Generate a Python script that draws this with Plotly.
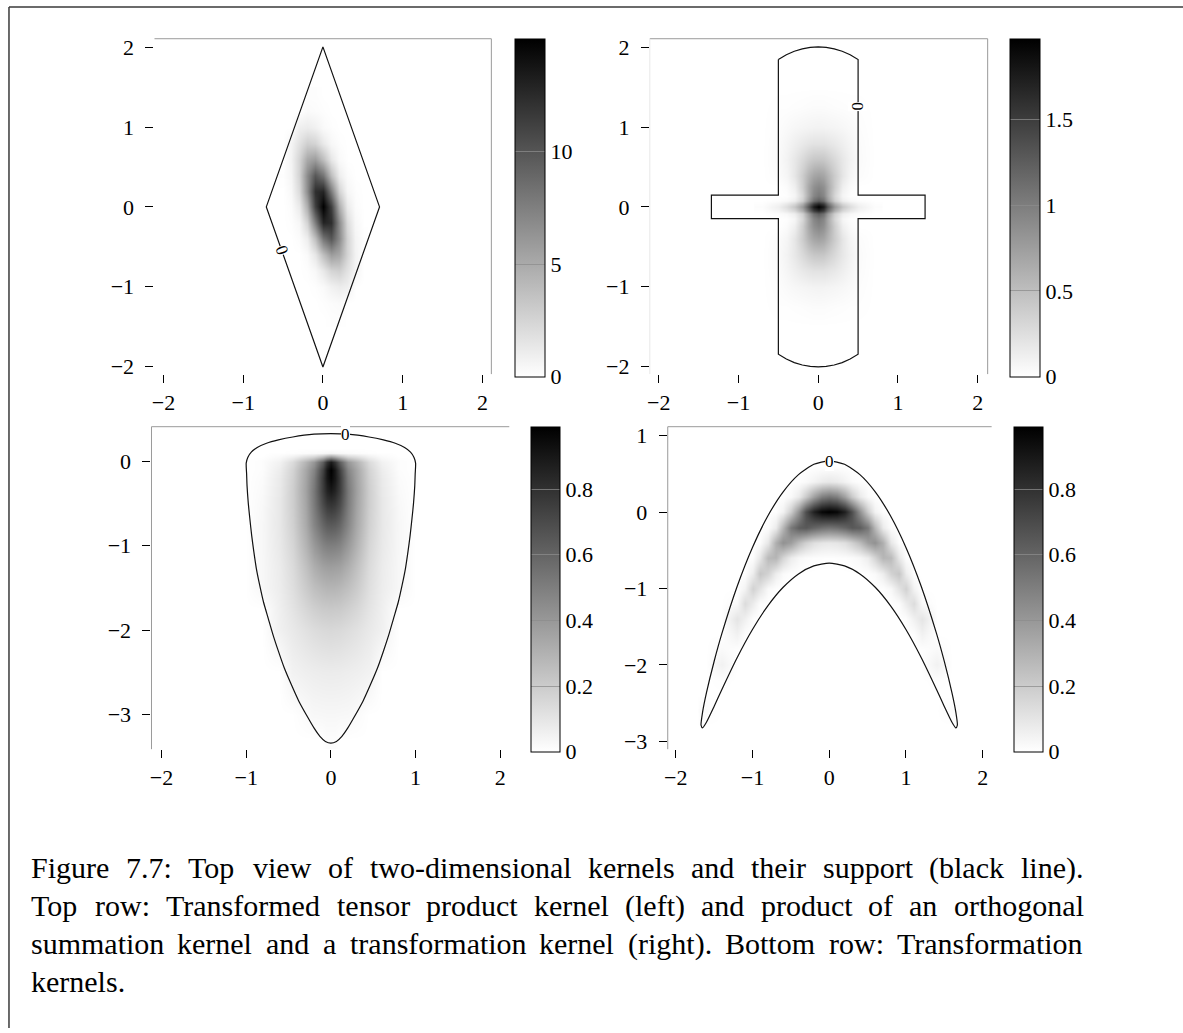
import plotly.graph_objects as go

# ---------------- data ----------------
# Panel 1: transformed tensor product kernel (rhombus support)
P1_X = [-0.5, -0.4, -0.3, -0.2, -0.1, 0, 0.1, 0.2, 0.3, 0.4, 0.5]
P1_Y = [-1.4, -1.2, -1.0, -0.8, -0.6, -0.4, -0.2, 0, 0.2, 0.4, 0.6, 0.8, 1.0, 1.2, 1.4]
P1_Z = [
    [0, 0, 0, 0, 0, 0, 0.1, 0.1, 0, 0, 0],
    [0, 0, 0, 0, 0, 0.1, 0.2, 0.3, 0, 0, 0],
    [0, 0, 0, 0, 0.1, 0.3, 0.8, 1.1, 0.9, 0, 0],
    [0, 0, 0, 0.1, 0.4, 1.3, 2.5, 2.8, 1.7, 0.6, 0],
    [0, 0, 0, 0.3, 1.4, 3.8, 5.8, 5.1, 2.5, 0.7, 0],
    [0, 0, 0.2, 1.0, 3.8, 8.1, 9.9, 6.8, 2.6, 0.6, 0.1],
    [0, 0.1, 0.5, 2.6, 7.7, 12.9, 12.3, 6.7, 2.1, 0.4, 0],
    [0, 0.2, 1.2, 4.8, 11.3, 15.0, 11.3, 4.8, 1.2, 0.2, 0],
    [0, 0.4, 2.1, 6.7, 12.3, 12.9, 7.7, 2.6, 0.5, 0.1, 0],
    [0.1, 0.6, 2.6, 6.8, 9.9, 8.1, 3.8, 1.0, 0.2, 0, 0],
    [0, 0.7, 2.5, 5.1, 5.8, 3.8, 1.4, 0.3, 0, 0, 0],
    [0, 0.6, 1.7, 2.8, 2.5, 1.3, 0.4, 0.1, 0, 0, 0],
    [0, 0, 0.9, 1.1, 0.8, 0.3, 0.1, 0, 0, 0, 0],
    [0, 0, 0, 0.3, 0.2, 0.1, 0, 0, 0, 0, 0],
    [0, 0, 0, 0.1, 0.1, 0, 0, 0, 0, 0, 0],
]
P1_ZMAX = 15.0
P1_SUPPORT_X = [0, 0.71, 0, -0.71, 0]
P1_SUPPORT_Y = [2.01, 0, -2.01, 0, 2.01]
P1_LABEL = (-0.516, -0.55, 70.6)

# Panel 2: orthogonal summation kernel x transformation kernel (cross support)
P2_X = [-0.7, -0.5, -0.4, -0.3, -0.2, -0.12, -0.06, 0, 0.06, 0.12, 0.2, 0.3, 0.4, 0.5, 0.7]
P2_Y = [-1.5, -1.25, -1.0, -0.8, -0.6, -0.4, -0.25, -0.14, -0.08, -0.04, 0,
        0.04, 0.08, 0.14, 0.25, 0.4, 0.6, 0.8, 1.0, 1.25, 1.5]
P2_Z = [
    [0, 0, 0, 0, 0, 0, 0, 0, 0, 0, 0, 0, 0, 0, 0],
    [0, 0.01, 0.01, 0.015, 0.02, 0.025, 0.03, 0.03, 0.03, 0.025, 0.02, 0.015, 0.01, 0.01, 0],
    [0, 0.02, 0.04, 0.06, 0.075, 0.085, 0.09, 0.095, 0.09, 0.085, 0.075, 0.06, 0.04, 0.02, 0],
    [0, 0.03, 0.07, 0.12, 0.17, 0.20, 0.22, 0.22, 0.22, 0.20, 0.17, 0.12, 0.07, 0.03, 0],
    [0, 0.035, 0.09, 0.18, 0.29, 0.38, 0.43, 0.44, 0.43, 0.38, 0.29, 0.18, 0.09, 0.035, 0],
    [0, 0.025, 0.07, 0.19, 0.39, 0.58, 0.69, 0.73, 0.69, 0.58, 0.39, 0.19, 0.07, 0.025, 0],
    [0, 0, 0.03, 0.12, 0.38, 0.67, 0.85, 0.92, 0.85, 0.67, 0.38, 0.12, 0.03, 0, 0],
    [0, 0, 0.01, 0.07, 0.31, 0.67, 0.93, 1.03, 0.93, 0.67, 0.31, 0.07, 0.01, 0, 0],
    [0, 0.02, 0.05, 0.13, 0.37, 0.78, 1.10, 1.24, 1.10, 0.78, 0.37, 0.13, 0.05, 0.02, 0],
    [0.01, 0.08, 0.17, 0.31, 0.63, 1.11, 1.50, 1.67, 1.50, 1.11, 0.63, 0.31, 0.17, 0.08, 0.01],
    [0.02, 0.12, 0.25, 0.44, 0.79, 1.31, 1.76, 1.97, 1.76, 1.31, 0.79, 0.44, 0.25, 0.12, 0.02],
    [0.01, 0.08, 0.17, 0.31, 0.63, 1.11, 1.50, 1.67, 1.50, 1.11, 0.63, 0.31, 0.17, 0.08, 0.01],
    [0, 0.02, 0.05, 0.13, 0.37, 0.78, 1.10, 1.24, 1.10, 0.78, 0.37, 0.13, 0.05, 0.02, 0],
    [0, 0, 0.01, 0.07, 0.31, 0.67, 0.93, 1.03, 0.93, 0.67, 0.31, 0.07, 0.01, 0, 0],
    [0, 0, 0.03, 0.12, 0.38, 0.67, 0.85, 0.92, 0.85, 0.67, 0.38, 0.12, 0.03, 0, 0],
    [0, 0.025, 0.07, 0.19, 0.39, 0.58, 0.69, 0.73, 0.69, 0.58, 0.39, 0.19, 0.07, 0.025, 0],
    [0, 0.035, 0.09, 0.18, 0.29, 0.38, 0.43, 0.44, 0.43, 0.38, 0.29, 0.18, 0.09, 0.035, 0],
    [0, 0.03, 0.07, 0.12, 0.17, 0.20, 0.22, 0.22, 0.22, 0.20, 0.17, 0.12, 0.07, 0.03, 0],
    [0, 0.02, 0.04, 0.06, 0.075, 0.085, 0.09, 0.095, 0.09, 0.085, 0.075, 0.06, 0.04, 0.02, 0],
    [0, 0.01, 0.01, 0.015, 0.02, 0.025, 0.03, 0.03, 0.03, 0.025, 0.02, 0.015, 0.01, 0.01, 0],
    [0, 0, 0, 0, 0, 0, 0, 0, 0, 0, 0, 0, 0, 0, 0],
]
P2_ZMAX = 1.97
P2_SUPPORT_X = [-0.5, -0.4, -0.3, -0.2, -0.1, 0, 0.1, 0.2, 0.3, 0.4, 0.5,
                0.5, 1.34, 1.34, 0.5,
                0.5, 0.4, 0.3, 0.2, 0.1, 0, -0.1, -0.2, -0.3, -0.4, -0.5,
                -0.5, -1.34, -1.34, -0.5, -0.5]
P2_SUPPORT_Y = [1.85, 1.91, 1.955, 1.985, 2.003, 2.01, 2.003, 1.985, 1.955, 1.91, 1.85,
                0.147, 0.147, -0.147, -0.147,
                -1.85, -1.91, -1.955, -1.985, -2.003, -2.01, -2.003, -1.985, -1.955, -1.91, -1.85,
                -0.147, -0.147, 0.147, 0.147, 1.85]
P2_LABEL = (0.5, 1.265, 90)

# Panel 3: transformation kernel (tear-drop support)
P3_X = [-1.0, -0.8, -0.6, -0.45, -0.3, -0.2, -0.1, -0.05, 0, 0.05, 0.1, 0.2, 0.3, 0.45, 0.6, 0.8, 1.0]
P3_Y = [-3.3, -3.0, -2.5, -2.0, -1.75, -1.5, -1.25, -1.0, -0.75, -0.5, -0.35, -0.2, -0.1,
        0, 0.05, 0.1, 0.15, 0.3]
P3_Z = [
    [0, 0, 0, 0, 0, 0, 0, 0.01, 0.01, 0.01, 0, 0, 0, 0, 0, 0, 0],
    [0, 0, 0, 0, 0.017, 0.028, 0.03, 0.031, 0.031, 0.031, 0.03, 0.028, 0.017, 0, 0, 0, 0],
    [0, 0, 0, 0.05, 0.063, 0.069, 0.074, 0.075, 0.076, 0.075, 0.074, 0.069, 0.063, 0.05, 0, 0, 0],
    [0, 0, 0.055, 0.085, 0.115, 0.133, 0.146, 0.149, 0.152, 0.149, 0.146, 0.133, 0.115, 0.085, 0.055, 0, 0],
    [0, 0, 0.06, 0.105, 0.155, 0.183, 0.204, 0.207, 0.21, 0.207, 0.204, 0.183, 0.155, 0.105, 0.06, 0, 0],
    [0, 0.03, 0.07, 0.125, 0.2, 0.245, 0.275, 0.285, 0.287, 0.285, 0.275, 0.245, 0.2, 0.125, 0.07, 0.03, 0],
    [0, 0.03, 0.075, 0.14, 0.24, 0.31, 0.36, 0.37, 0.376, 0.37, 0.36, 0.31, 0.24, 0.14, 0.075, 0.03, 0],
    [0, 0.03, 0.085, 0.16, 0.29, 0.39, 0.47, 0.49, 0.495, 0.49, 0.47, 0.39, 0.29, 0.16, 0.085, 0.03, 0],
    [0, 0.03, 0.09, 0.18, 0.33, 0.47, 0.59, 0.63, 0.64, 0.63, 0.59, 0.47, 0.33, 0.18, 0.09, 0.03, 0],
    [0, 0.025, 0.09, 0.19, 0.35, 0.51, 0.70, 0.77, 0.79, 0.77, 0.70, 0.51, 0.35, 0.19, 0.09, 0.025, 0],
    [0, 0.02, 0.085, 0.19, 0.36, 0.52, 0.75, 0.85, 0.89, 0.85, 0.75, 0.52, 0.36, 0.19, 0.085, 0.02, 0],
    [0, 0.015, 0.08, 0.18, 0.35, 0.50, 0.76, 0.90, 0.97, 0.90, 0.76, 0.50, 0.35, 0.18, 0.08, 0.015, 0],
    [0, 0.01, 0.07, 0.17, 0.34, 0.47, 0.73, 0.90, 0.99, 0.90, 0.73, 0.47, 0.34, 0.17, 0.07, 0.01, 0],
    [0, 0.01, 0.05, 0.14, 0.29, 0.40, 0.62, 0.79, 0.89, 0.79, 0.62, 0.40, 0.29, 0.14, 0.05, 0.01, 0],
    [0, 0, 0.02, 0.06, 0.13, 0.17, 0.27, 0.35, 0.40, 0.35, 0.27, 0.17, 0.13, 0.06, 0.02, 0, 0],
    [0, 0, 0, 0.005, 0.012, 0.015, 0.025, 0.032, 0.04, 0.032, 0.025, 0.015, 0.012, 0.005, 0, 0, 0],
    [0, 0, 0, 0, 0, 0, 0, 0, 0, 0, 0, 0, 0, 0, 0, 0, 0],
    [0, 0, 0, 0, 0, 0, 0, 0, 0, 0, 0, 0, 0, 0, 0, 0, 0],
]
P3_ZMAX = 0.99
P3_SUPPORT_X = [0, 0.2, 0.45, 0.62, 0.76, 0.87, 0.94, 0.98, 1.0, 0.995, 0.99, 0.975, 0.957, 0.935,
                0.91, 0.88, 0.84, 0.795, 0.74, 0.685, 0.62, 0.55, 0.47, 0.38, 0.27, 0.2, 0.13, 0.065, 0,
                -0.065, -0.13, -0.2, -0.27, -0.38, -0.47, -0.55, -0.62, -0.685, -0.74, -0.795, -0.84,
                -0.88, -0.91, -0.935, -0.957, -0.975, -0.99, -0.995, -1.0, -0.98, -0.94, -0.87, -0.76,
                -0.62, -0.45, -0.2, 0]
P3_SUPPORT_Y = [0.33, 0.323, 0.29, 0.255, 0.215, 0.165, 0.11, 0.05, -0.02, -0.15, -0.29, -0.5, -0.68, -0.88,
                -1.07, -1.27, -1.47, -1.67, -1.86, -2.05, -2.25, -2.45, -2.64, -2.84, -3.04, -3.16, -3.26, -3.32, -3.34,
                -3.32, -3.26, -3.16, -3.04, -2.84, -2.64, -2.45, -2.25, -2.05, -1.86, -1.67, -1.47,
                -1.27, -1.07, -0.88, -0.68, -0.5, -0.29, -0.15, -0.02, 0.05, 0.11, 0.165, 0.215,
                0.255, 0.29, 0.323, 0.33]
P3_LABEL = (0.17, 0.325, 0)

# Panel 4: transformation kernel (banana support)
P4_X = [-1.6, -1.4, -1.2, -1.1, -1.0, -0.9, -0.8, -0.7, -0.6, -0.5, -0.4, -0.3, -0.2, -0.1, 0,
        0.1, 0.2, 0.3, 0.4, 0.5, 0.6, 0.7, 0.8, 0.9, 1.0, 1.1, 1.2, 1.4, 1.6]
P4_Y = [-2.8, -2.6, -2.4, -2.2, -2.0, -1.8, -1.6, -1.4, -1.2, -1.0, -0.8, -0.6, -0.4, -0.2, 0, 0.2, 0.4, 0.6]
P4_Z = [
    [0, 0, 0, 0, 0, 0, 0, 0, 0, 0, 0, 0, 0, 0, 0, 0, 0, 0, 0, 0, 0, 0, 0, 0, 0, 0, 0, 0, 0],
    [0.015, 0, 0, 0, 0, 0, 0, 0, 0, 0, 0, 0, 0, 0, 0, 0, 0, 0, 0, 0, 0, 0, 0, 0, 0, 0, 0, 0, 0.015],
    [0, 0, 0, 0, 0, 0, 0, 0, 0, 0, 0, 0, 0, 0, 0, 0, 0, 0, 0, 0, 0, 0, 0, 0, 0, 0, 0, 0, 0],
    [0, 0.005, 0, 0, 0, 0, 0, 0, 0, 0, 0, 0, 0, 0, 0, 0, 0, 0, 0, 0, 0, 0, 0, 0, 0, 0, 0, 0.005, 0],
    [0, 0.05, 0, 0, 0, 0, 0, 0, 0, 0, 0, 0, 0, 0, 0, 0, 0, 0, 0, 0, 0, 0, 0, 0, 0, 0, 0, 0.05, 0],
    [0, 0.02, 0.004, 0, 0, 0, 0, 0, 0, 0, 0, 0, 0, 0, 0, 0, 0, 0, 0, 0, 0, 0, 0, 0, 0, 0, 0.004, 0.02, 0],
    [0, 0, 0.05, 0.004, 0, 0, 0, 0, 0, 0, 0, 0, 0, 0, 0, 0, 0, 0, 0, 0, 0, 0, 0, 0, 0, 0.004, 0.05, 0, 0],
    [0, 0, 0.10, 0.055, 0.006, 0, 0, 0, 0, 0, 0, 0, 0, 0, 0, 0, 0, 0, 0, 0, 0, 0, 0, 0, 0.006, 0.055, 0.10, 0, 0],
    [0, 0, 0.02, 0.135, 0.07, 0.01, 0, 0, 0, 0, 0, 0, 0, 0, 0, 0, 0, 0, 0, 0, 0, 0, 0, 0.01, 0.07, 0.135, 0.02, 0, 0],
    [0, 0, 0, 0.045, 0.175, 0.105, 0.025, 0.004, 0, 0, 0, 0, 0, 0, 0, 0, 0, 0, 0, 0, 0, 0.004, 0.025, 0.105, 0.175, 0.045, 0, 0, 0],
    [0, 0, 0, 0.002, 0.07, 0.22, 0.17, 0.065, 0.018, 0.004, 0, 0, 0, 0, 0, 0, 0, 0, 0, 0.004, 0.018, 0.065, 0.17, 0.22, 0.07, 0.002, 0, 0, 0],
    [0, 0, 0, 0, 0.006, 0.09, 0.265, 0.285, 0.165, 0.072, 0.03, 0.015, 0.008, 0.006, 0.005, 0.006, 0.008, 0.015, 0.03, 0.072, 0.165, 0.285, 0.265, 0.09, 0.006, 0, 0, 0, 0],
    [0, 0, 0, 0, 0, 0.008, 0.09, 0.31, 0.425, 0.375, 0.26, 0.18, 0.125, 0.097, 0.088, 0.097, 0.125, 0.18, 0.26, 0.375, 0.425, 0.31, 0.09, 0.008, 0, 0, 0, 0, 0],
    [0, 0, 0, 0, 0, 0, 0.008, 0.078, 0.28, 0.52, 0.625, 0.645, 0.595, 0.555, 0.535, 0.555, 0.595, 0.645, 0.625, 0.52, 0.28, 0.078, 0.008, 0, 0, 0, 0, 0, 0],
    [0, 0, 0, 0, 0, 0, 0, 0.005, 0.046, 0.19, 0.425, 0.685, 0.865, 0.965, 0.99, 0.965, 0.865, 0.685, 0.425, 0.19, 0.046, 0.005, 0, 0, 0, 0, 0, 0, 0],
    [0, 0, 0, 0, 0, 0, 0, 0, 0.003, 0.02, 0.08, 0.205, 0.365, 0.495, 0.535, 0.495, 0.365, 0.205, 0.08, 0.02, 0.003, 0, 0, 0, 0, 0, 0, 0, 0],
    [0, 0, 0, 0, 0, 0, 0, 0, 0, 0, 0.005, 0.018, 0.046, 0.075, 0.088, 0.075, 0.046, 0.018, 0.005, 0, 0, 0, 0, 0, 0, 0, 0, 0, 0],
    [0, 0, 0, 0, 0, 0, 0, 0, 0, 0, 0, 0, 0, 0, 0, 0, 0, 0, 0, 0, 0, 0, 0, 0, 0, 0, 0, 0, 0],
]
P4_ZMAX = 0.99
P4_SUPPORT_X = [-1.67, -1.65, -1.6, -1.5, -1.4, -1.2, -1.0, -0.8, -0.6, -0.4, -0.2, 0,
                0.2, 0.4, 0.6, 0.8, 1.0, 1.2, 1.4, 1.5, 1.6, 1.65, 1.67,
                1.65, 1.6, 1.5, 1.4, 1.2, 1.0, 0.8, 0.6, 0.4, 0.2, 0,
                -0.2, -0.4, -0.6, -0.8, -1.0, -1.2, -1.4, -1.5, -1.6, -1.65, -1.67]
P4_SUPPORT_Y = [-2.79, -2.619, -2.368, -1.956, -1.595, -0.974, -0.463, -0.052, 0.265, 0.49, 0.625, 0.67,
                0.625, 0.49, 0.265, -0.052, -0.463, -0.974, -1.595, -1.956, -2.368, -2.619, -2.79,
                -2.826, -2.752, -2.545, -2.325, -1.906, -1.537, -1.228, -0.985, -0.81, -0.705, -0.67,
                -0.705, -0.81, -0.985, -1.228, -1.537, -1.906, -2.325, -2.545, -2.752, -2.826, -2.79]
P4_LABEL = (0, 0.665, 0)

CB1_TICKS = [0, 5, 10]
CB2_TICKS = [0, 0.5, 1, 1.5]
CB3_TICKS = [0, 0.2, 0.4, 0.6, 0.8]
CB4_TICKS = [0, 0.2, 0.4, 0.6, 0.8]

AX_TICKS_X = [-2, -1, 0, 1, 2]
AX_TICKS_Y12 = [-2, -1, 0, 1, 2]
AX_TICKS_Y3 = [-3, -2, -1, 0]
AX_TICKS_Y4 = [-3, -2, -1, 0, 1]

CAPTION = [
    "Figure 7.7: Top view of two-dimensional kernels and their support (black line).",
    "Top row: Transformed tensor product kernel (left) and product of an orthogonal",
    "summation kernel and a transformation kernel (right). Bottom row: Transformation",
    "kernels.",
]

# ---------------- layout helpers ----------------
W_PX, H_PX = 1183, 1033
FONT = "Liberation Serif"
TICK_FS = 22
GRAY = [[0, "#ffffff"], [1, "#000000"]]


def fx(p):
    return p / W_PX


def fy(p):
    return 1 - p / H_PX


def lab(v):
    s = ("%g" % abs(v))
    return ("\u2212" + s) if v < 0 else s


PANELS = [
    dict(data=(P1_X, P1_Y, P1_Z, P1_ZMAX), sup=(P1_SUPPORT_X, P1_SUPPORT_Y, "linear"), label=P1_LABEL,
         xpx=(151, 489), ypx=(36, 374), xr=(-2.1125, 2.1125), yr=(-2.0997, 2.1121),
         yt=AX_TICKS_Y12, cb=(513, 30), cbt=CB1_TICKS,
         frame=[((151, 36), (489, 36), "#9a9a9a"), ((489, 36), (489, 374), "#9a9a9a")]),
    dict(data=(P2_X, P2_Y, P2_Z, P2_ZMAX), sup=(P2_SUPPORT_X, P2_SUPPORT_Y, "linear"), label=P2_LABEL,
         xpx=(648, 987), ypx=(36, 374), xr=(-2.1125, 2.125), yr=(-2.0997, 2.1121),
         yt=AX_TICKS_Y12, cb=(1009, 30), cbt=CB2_TICKS,
         frame=[((648, 36), (987, 36), "#9a9a9a"), ((987, 36), (987, 374), "#9a9a9a"),
                ((648, 36), (648, 374), "#e8e8e8")]),
    dict(data=(P3_X, P3_Y, P3_Z, P3_ZMAX), sup=(P3_SUPPORT_X, P3_SUPPORT_Y, "spline"), label=P3_LABEL,
         xpx=(148, 507), ypx=(427, 752), xr=(-2.118, 2.106), yr=(-3.412, 0.412),
         yt=AX_TICKS_Y3, cb=(529, 29), cbt=CB3_TICKS,
         frame=[((148, 427), (507, 427), "#9a9a9a"), ((148, 427), (148, 752), "#9a9a9a")]),
    dict(data=(P4_X, P4_Y, P4_Z, P4_ZMAX), sup=(P4_SUPPORT_X, P4_SUPPORT_Y, "spline"), label=P4_LABEL,
         xpx=(666, 991), ypx=(427, 752), xr=(-2.104, 2.117), yr=(-3.104, 1.117),
         yt=AX_TICKS_Y4, cb=(1013, 29), cbt=CB4_TICKS,
         frame=[((666, 427), (991, 427), "#9a9a9a"), ((666, 427), (666, 752), "#9a9a9a")]),
]

fig = go.Figure()
layout = dict(
    width=W_PX, height=H_PX, margin=dict(l=0, r=0, t=0, b=0),
    paper_bgcolor="white", plot_bgcolor="white",
    font=dict(family=FONT, color="black", size=TICK_FS),
    showlegend=False,
)
shapes = []
annotations = []

for i, p in enumerate(PANELS):
    sfx = "" if i == 0 else str(i + 1)
    xa, ya = "x" + sfx, "y" + sfx
    X, Y, Z, ZMAX = p["data"]
    cbx, cbth = p["cb"]
    top, bot = p["ypx"]
    fig.add_trace(go.Heatmap(
        x=X, y=Y, z=Z, zmin=0, zmax=ZMAX, colorscale=GRAY, zsmooth="best",
        hoverinfo="skip", xaxis=xa, yaxis=ya, showscale=True,
        colorbar=dict(
            x=fx(cbx), xanchor="left", xpad=0, y=fy(top), yanchor="top", ypad=0,
            len=bot - top, lenmode="pixels", thickness=cbth, thicknessmode="pixels",
            outlinewidth=1, outlinecolor="black", borderwidth=0,
            tickvals=p["cbt"], ticktext=[lab(v) for v in p["cbt"]],
            ticks="inside", ticklen=cbth, tickwidth=1, tickcolor="rgba(140,140,140,0.75)",
            tickfont=dict(family=FONT, size=TICK_FS, color="black"),
        ),
    ))
    sx, sy, shape = p["sup"]
    fig.add_trace(go.Scatter(
        x=sx, y=sy, mode="lines", xaxis=xa, yaxis=ya, hoverinfo="skip",
        line=dict(color="#111111", width=1.2, shape=shape, smoothing=0.6),
    ))
    lx, ly, ang = p["label"]
    annotations.append(dict(
        x=lx, y=ly, xref=xa, yref=ya, text="0", showarrow=False, textangle=ang,
        font=dict(family=FONT, size=17, color="black"), bgcolor="white",
        borderpad=0, borderwidth=0, xanchor="center", yanchor="middle",
    ))
    common = dict(
        ticks="outside", ticklen=8, tickwidth=1, tickcolor="black",
        showgrid=False, zeroline=False, showline=False, fixedrange=True,
        tickfont=dict(family=FONT, size=TICK_FS, color="black"),
    )
    layout["xaxis" + sfx] = dict(
        domain=[fx(p["xpx"][0]), fx(p["xpx"][1])], range=list(p["xr"]), anchor=ya,
        tickvals=AX_TICKS_X, ticktext=[lab(v) for v in AX_TICKS_X], ticklabelstandoff=0, **common)
    layout["yaxis" + sfx] = dict(
        domain=[fy(bot), fy(top)], range=list(p["yr"]), anchor=xa,
        tickvals=p["yt"], ticktext=[lab(v) for v in p["yt"]], ticklabelstandoff=7, **common)
    for (x0, y0), (x1, y1), col in p["frame"]:
        shapes.append(dict(type="line", xref="paper", yref="paper",
                           x0=fx(x0), y0=fy(y0), x1=fx(x1), y1=fy(y1),
                           line=dict(color=col, width=1), layer="above"))

# outer figure frame (top and left edges)
shapes.append(dict(type="line", xref="paper", yref="paper", x0=fx(5), y0=fy(4), x1=1, y1=fy(4),
                   line=dict(color="#3a3a3a", width=1.5), layer="above"))
shapes.append(dict(type="line", xref="paper", yref="paper", x0=fx(5), y0=fy(4), x1=fx(5), y1=0,
                   line=dict(color="#3a3a3a", width=1.5), layer="above"))

# caption: justified text, word by word (Times metrics = Liberation Serif)
WID = {" ": 250, "(": 333, ")": 333, ".": 250, ":": 278, "-": 333,
       "F": 556, "T": 611, "B": 667,
       "a": 444, "b": 500, "c": 444, "d": 500, "e": 444, "f": 333, "g": 500, "h": 500,
       "i": 278, "j": 278, "k": 500, "l": 278, "m": 778, "n": 500, "o": 500, "p": 500,
       "q": 500, "r": 333, "s": 389, "t": 278, "u": 500, "v": 500, "w": 722, "x": 500,
       "y": 500, "z": 444}
CAP_FS = 30
CAP_L, CAP_R = 27, 1083
CAP_BASE = [881.7, 920.0, 958.3, 996.7]


def tw(s):
    return sum(WID.get(c, 500) for c in s) / 1000.0 * CAP_FS


for li, line in enumerate(CAPTION):
    words = line.split(" ")
    yc = fy(CAP_BASE[li] - 0.3375 * CAP_FS)
    justify = li < len(CAPTION) - 1
    widths = [tw(w) for w in words]
    if justify and len(words) > 1:
        gap = (CAP_R - CAP_L - sum(widths)) / (len(words) - 1)
    else:
        gap = tw(" ")
    xcur = CAP_L
    for w, wd in zip(words, widths):
        annotations.append(dict(
            x=fx(xcur), y=yc, xref="paper", yref="paper", text=w, showarrow=False,
            xanchor="left", yanchor="middle", borderpad=0, borderwidth=0,
            font=dict(family=FONT, size=CAP_FS, color="black"),
        ))
        xcur += wd + gap

layout["shapes"] = shapes
layout["annotations"] = annotations
fig.update_layout(**layout)
fig.write_html("out.html", config={"displayModeBar": False, "staticPlot": True})
